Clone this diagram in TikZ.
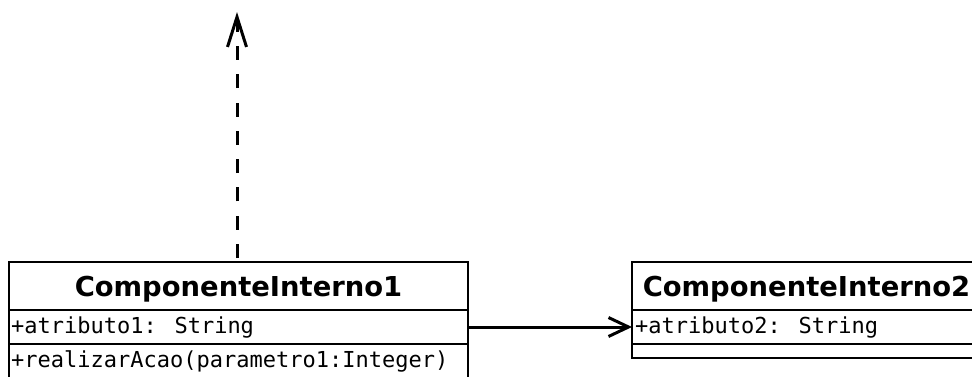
\documentclass[tikz,border=0pt]{standalone}
\usepackage{fontspec}
\setmainfont{DejaVu Sans}
\newfontfamily\monofont{DejaVu Sans Mono}
\usetikzlibrary{arrows.meta}
\tikzset{
  cell/.style={draw=black, line width=1.5pt, inner sep=0pt, outer sep=0pt, anchor=north west},
  headtxt/.style={font=\fontsize{27.4}{30}\selectfont\bfseries, inner sep=0pt, anchor=base},
  membertxt/.style={font=\monofont\fontsize{22}{24}\selectfont, anchor=base west, inner sep=0pt},
  conn/.style={line width=3pt},
}
\begin{document}
\begin{tikzpicture}[x=1pt,y=-1pt]
\useasboundingbox (0,0) rectangle (972,376);
\clip (0,0) rectangle (972,376);
% class 1
\node[cell, minimum width=459pt, minimum height=48pt] (h1) at (9,262) {};
\node[cell, minimum width=459pt, minimum height=34pt] (a1) at (9,310) {};
\node[cell, minimum width=459pt, minimum height=50pt] (m1) at (9,344) {};
\node[headtxt] (t1) at (238.5,296) {ComponenteInterno1};
\node[membertxt] (at1) at (11,333) {+atributo1: String};
\node[membertxt] (mt1) at (11,367) {+realizarAcao(parametro1:Integer)};
% class 2
\node[cell, minimum width=349pt, minimum height=48pt] (h2) at (632,262) {};
\node[cell, minimum width=349pt, minimum height=34pt] (a2) at (632,310) {};
\node[cell, minimum width=349pt, minimum height=14pt] (m2) at (632,344) {};
\node[headtxt] (t2) at (806.5,296) {ComponenteInterno2};
\node[membertxt] (at2) at (635,333) {+atributo2: String};
% connectors
\coordinate (top) at (237,12);
\draw[conn, dash pattern=on 14pt off 14.3pt, dash phase=24.3pt, -{Straight Barb[length=30pt,width=19pt]}] (h1.north -| top) -- (top);
\draw[conn, -{Straight Barb[length=20pt,width=19pt]}] (a1.east) -- (a2.west);
\end{tikzpicture}
\end{document}
